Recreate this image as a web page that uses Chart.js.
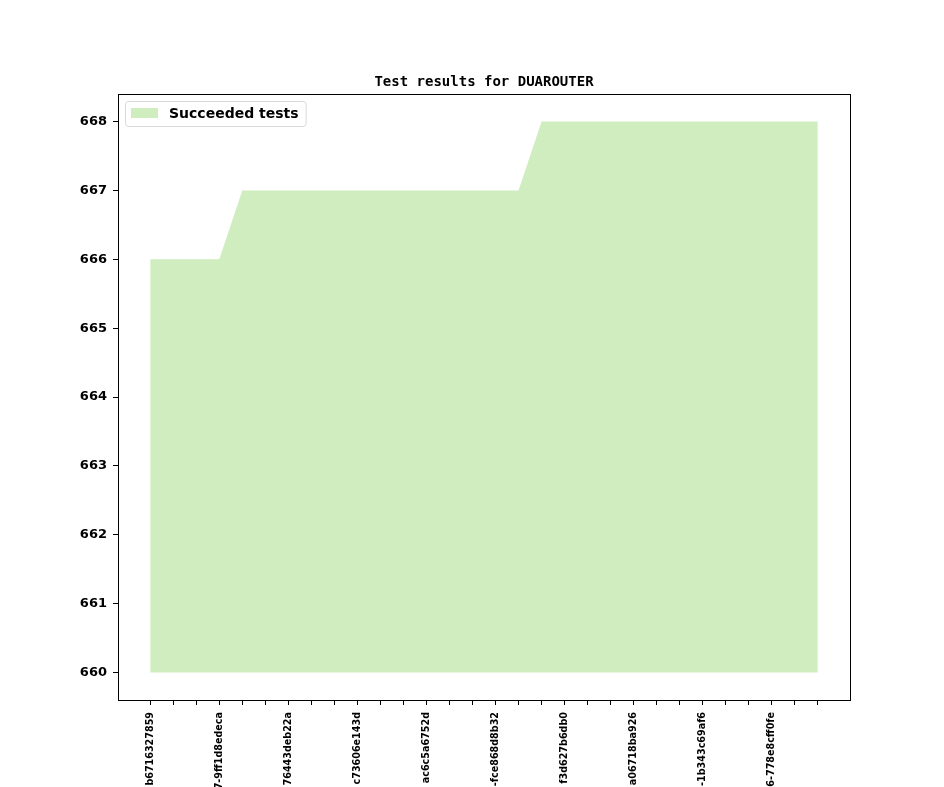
<!DOCTYPE html>
<html>
<head>
<meta charset="utf-8">
<script src="https://cdn.jsdelivr.net/npm/chart.js@4"></script>
<style>
  html, body { margin: 0; padding: 0; background: #fff; }
  #wrap { width: 944px; height: 787px; }
</style>
</head>
<body>
<div id="wrap"><canvas id="testChart" width="944" height="787"></canvas></div>
<script>
// commits (only the visible part of each label is kept, every third tick is labelled)
const commitLabels = [
  'b6716327859', '', '', '7-9ff1d8edeca', '', '', '76443deb22a', '', '',
  'c73606e143d', '', '', 'ac6c5a6752d', '', '', '-fce868d8b32', '', '',
  'f3d627b6db0', '', '', 'a06718ba926', '', '', '-1b343c69af6', '', '',
  '6-778e8cff0fe', '', ''
];
const succeeded = [
  666, 666, 666, 666, 667, 667, 667, 667, 667, 667,
  667, 667, 667, 667, 667, 667, 667, 668, 668, 668,
  668, 668, 668, 668, 668, 668, 668, 668, 668, 668
];
const yTicks = [660, 661, 662, 663, 664, 665, 666, 667, 668];
const baseline = 660;

const fillColor = '#cfedbf';

const frameAndLegend = {
  id: 'frameAndLegend',
  afterDraw(chart) {
    const { ctx, chartArea: a } = chart;
    ctx.save();
    // plot frame
    ctx.strokeStyle = '#000';
    ctx.lineWidth = 1;
    ctx.strokeRect(Math.round(a.left) + 0.5, Math.round(a.top) + 0.5,
      Math.round(a.right - a.left), Math.round(a.bottom - a.top));
    // title
    ctx.fillStyle = '#000';
    ctx.font = 'bold 14px "DejaVu Sans Mono", monospace';
    ctx.textAlign = 'center';
    ctx.textBaseline = 'alphabetic';
    ctx.fillText('Test results for DUAROUTER', (a.left + a.right) / 2, 86);
    // legend box
    const x = a.left + 7, y = a.top + 7;
    ctx.font = 'bold 14px "DejaVu Sans", sans-serif';
    const txt = chart.data.datasets[0].label;
    const w = 44 + ctx.measureText(txt).width + 7;
    const h = 25;
    ctx.beginPath();
    ctx.roundRect(x + 0.5, y + 0.5, w, h, 3);
    ctx.fillStyle = 'rgba(255,255,255,0.8)';
    ctx.fill();
    ctx.strokeStyle = '#d9d9d9';
    ctx.stroke();
    ctx.fillStyle = fillColor;
    ctx.fillRect(x + 6, y + 7, 27, 10);
    ctx.fillStyle = '#000';
    ctx.textAlign = 'left';
    ctx.textBaseline = 'middle';
    ctx.fillText(txt, x + 44, y + 13);
    ctx.restore();
  }
};

const ctx = document.getElementById('testChart').getContext('2d');
const testChart = new Chart(ctx, {
  type: 'line',
  data: {
    datasets: [{
      label: 'Succeeded tests',
      data: succeeded.map((v, i) => ({ x: i, y: v })),
      backgroundColor: fillColor,
      borderWidth: 0,
      pointRadius: 0,
      fill: { value: baseline },
      tension: 0
    }]
  },
  options: {
    responsive: false,
    animation: false,
    layout: { padding: { top: 94, right: 94, left: 0, bottom: 0 } },
    plugins: {
      legend: { display: false },
      title: { display: false },
      tooltip: { enabled: false }
    },
    scales: {
      x: {
        type: 'linear',
        min: -1.4,
        max: succeeded.length - 1 + 1.4,
        afterFit(scale) { scale.height = 87; },
        afterBuildTicks(scale) {
          scale.ticks = commitLabels.map((_, i) => ({ value: i }));
        },
        grid: { drawOnChartArea: false, drawTicks: true, tickLength: 5, color: '#000', tickWidth: 1 },
        border: { display: true, color: '#000', width: 1 },
        ticks: {
          autoSkip: false,
          maxRotation: 90,
          minRotation: 90,
          padding: 7,
          color: '#000',
          font: { family: '"DejaVu Sans", sans-serif', weight: 'bold', size: 9.6 },
          callback: (value) => commitLabels[value] ?? ''
        }
      },
      y: {
        min: 659.6,
        max: 668.4,
        afterFit(scale) { scale.width = 118; },
        afterBuildTicks(scale) {
          scale.ticks = yTicks.map(v => ({ value: v }));
        },
        grid: { drawOnChartArea: false, drawTicks: true, tickLength: 5, color: '#000', tickWidth: 1 },
        border: { display: true, color: '#000', width: 1 },
        ticks: {
          padding: 6,
          color: '#000',
          font: { family: '"DejaVu Sans", sans-serif', weight: 'bold', size: 13 }
        }
      }
    }
  },
  plugins: [frameAndLegend]
});
</script>
</body>
</html>
